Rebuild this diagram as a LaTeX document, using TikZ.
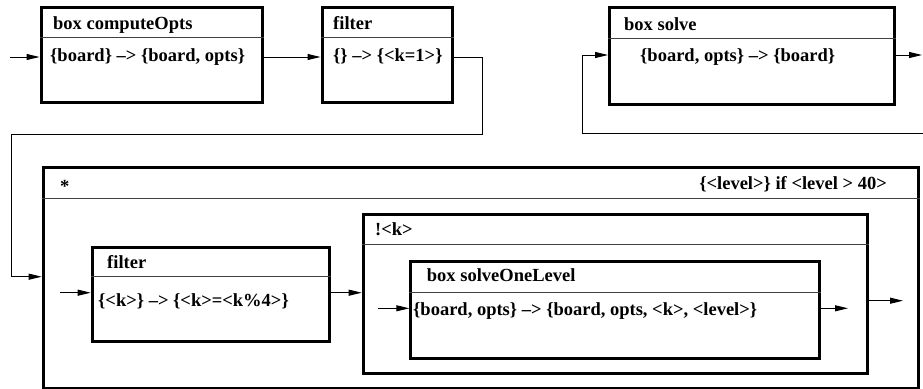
\documentclass[tikz,border=0pt]{standalone}
\usepackage{fontspec}
\setmainfont{Liberation Serif}
\usetikzlibrary{arrows.meta}

% A framed panel: name, left, top, right, bottom, y of the header rule
\newcommand\panelbox[6]{%
  \node[panel, anchor=north west,
        minimum width={(#4-#2)*1pt}, minimum height={(#5-#3)*1pt}]
        (#1) at (#2,#3) {};
  \draw[rule] (#1.west |- 0,#6) -- (#1.east |- 0,#6);
}

\begin{document}
\begin{tikzpicture}[x=1pt, y=-1pt,
  panel/.style={draw, line width=3pt, rectangle, inner sep=0pt, fill=white},
  rule/.style={line width=0.9pt, draw=black!75},
  label/.style={anchor=base west, inner sep=0pt,
    font=\fontsize{18.5}{20}\selectfont\bfseries},
  conn/.style={line width=1pt, -{Triangle[length=13pt,width=6pt]}},
  wire/.style={line width=1pt}]
\useasboundingbox (0,0) rectangle (923,388);

% top row
\panelbox{cOpts}{39.5}{5.5}{261}{100.5}{37.5}
\panelbox{filtA}{320.5}{5.5}{450.5}{100.5}{37.5}
\panelbox{solve}{608}{5.5}{893}{103}{38}

% repetition block and its contents
\panelbox{star}{41.7}{166}{916.7}{386.5}{198}
\panelbox{filtB}{90.7}{246}{328}{340}{276.7}
\panelbox{bang}{361.7}{212.7}{866}{371.7}{244}
\panelbox{oneLvl}{409.3}{260}{818.3}{356.7}{292.3}

% headers
\node[label] (tA) at (53,29.5) {box computeOpts};
\node[label] (tB) at (333,29.5) {filter};
\node[label] (tC) at (624,30) {box solve};
\node[label] (tD) at (60,192) {*};
\node[label, anchor=base east] (tE) at (887,189.5) {\{<level>\} if <level > 40>};
\node[label] (tF) at (375,235) {!<k>};
\node[label] (tG) at (107,268.3) {filter};
\node[label] (tH) at (426.7,281.7) {box solveOneLevel};

% signatures
\node[label] (sA) at (50,61) {\{board\} –> \{board, opts\}};
\node[label] (sB) at (333,61) {\{\} –> \{<k=1>\}};
\node[label] (sC) at (640,61) {\{board, opts\} –> \{board\}};
\node[label] (sD) at (98,306.7) {\{<k>\} –> \{<k>=<k\%4>\}};
\node[label] (sE) at (413,315.5) {\{board, opts\} –> \{board, opts, <k>, <level>\}};

% free ends and bends of the connectors
\coordinate (inA) at (10,57);
\coordinate (bendA) at (482,134);
\coordinate (bendB) at (11,134);
\coordinate (inB) at (60,292.7);
\coordinate (inC) at (378,308.3);
\coordinate (outC) at (848,308.3);
\coordinate (outB) at (903,300.7);
\coordinate (backR) at (923,133.3);
\coordinate (backL) at (582,133.3);
\coordinate (outA) at (922,55);

\draw[conn] (inA) -- (cOpts.west |- inA);
\draw[conn] (cOpts.east |- inA) -- (filtA.west |- inA);
\draw[conn] (filtA.east |- inA) -| (bendA) -- (bendB) |- (star.west |- 0,276.7);
\draw[conn] (inB) -- (filtB.west |- inB);
\draw[conn] (filtB.east |- inB) -- (bang.west |- inB);
\draw[conn] (inC) -- (oneLvl.west |- inC);
\draw[conn] (oneLvl.east |- outC) -- (outC);
\draw[conn] (bang.east |- outB) -- (outB);
\draw[conn] (backR) -- (backL) |- (solve.west |- outA);
\draw[conn] (solve.east |- outA) -- (outA);
\end{tikzpicture}
\end{document}
